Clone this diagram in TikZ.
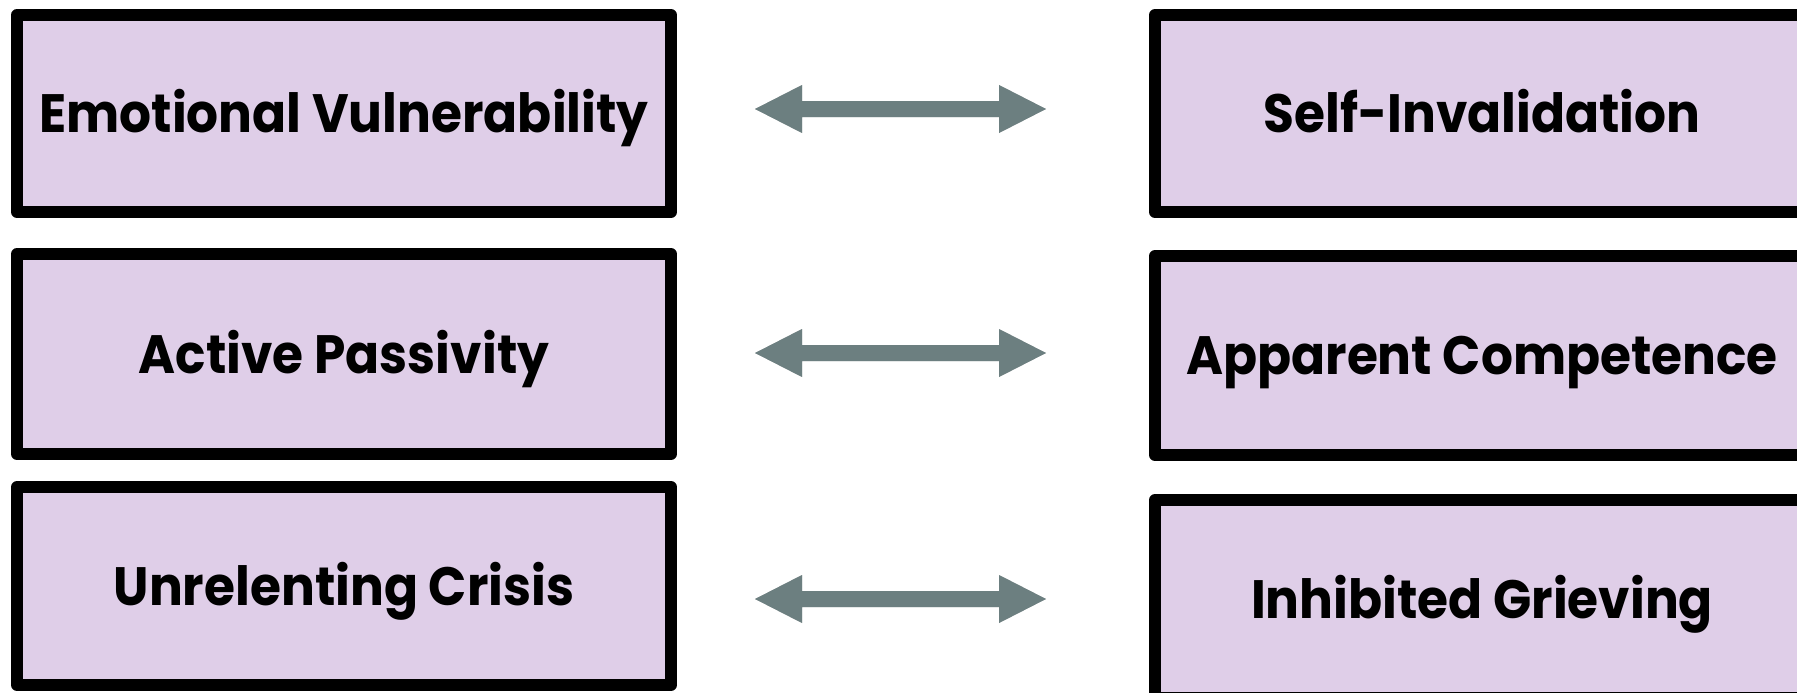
\documentclass[tikz,border=0pt]{standalone}
\usepackage{fontspec}
\setmainfont{Poppins}[FakeStretch=0.93]
\usetikzlibrary{calc}
\definecolor{boxfill}{RGB}{223,206,232}
\definecolor{arrowgray}{RGB}{108,127,128}
\tikzset{
  box/.style={draw=black, line width=12pt, line join=round, fill=boxfill,
    minimum width=654pt, inner sep=0pt, text=black,
    font=\fontsize{54}{60}\selectfont\bfseries, text height=38pt, text depth=0pt},
  arrowbody/.style={fill=arrowgray},
  arrowshadow/.style={fill=black, draw=none},
}
\newcommand{\blockarrow}[2]{%
  \foreach \dx/\dy/\op in {2/3/0.10, 3/5/0.08, 4/7/0.06}{%
    \fill[arrowshadow, opacity=\op, shift={(\dx pt,-\dy pt)}]
      (#1) -- ($(#1)+(47,-24)$) -- ($(#1)+(47,-8)$) -- ($(#2)+(-47,-8)$) -- ($(#2)+(-47,-24)$) -- (#2)
      -- ($(#2)+(-47,24)$) -- ($(#2)+(-47,8)$) -- ($(#1)+(47,8)$) -- ($(#1)+(47,24)$) -- cycle;
  }
  \fill[arrowbody]
    (#1) -- ($(#1)+(47,-24)$) -- ($(#1)+(47,-8)$) -- ($(#2)+(-47,-8)$) -- ($(#2)+(-47,-24)$) -- (#2)
    -- ($(#2)+(-47,24)$) -- ($(#2)+(-47,8)$) -- ($(#1)+(47,8)$) -- ($(#1)+(47,24)$) -- cycle;
}
\begin{document}
\begin{tikzpicture}[x=1pt, y=-1pt]
\useasboundingbox (0,0) rectangle (1797,693);
% left column
\node[box, minimum height=197pt] (l1) at (344,113.5) {Emotional Vulnerability};
\node[box, minimum height=200pt] (l2) at (344,354) {Active Passivity};
\node[box, minimum height=198pt] (l3) at (344,586) {Unrelenting Crisis};
% right column
\node[box, minimum height=197pt] (r1) at (1482,113.5) {Self-Invalidation};
\node[box, minimum height=199pt] (r2) at (1482,355.5) {Apparent Competence};
\node[box, minimum height=198pt] (r3) at (1482,599) {Inhibited Grieving};
% arrows
\coordinate (a1l) at (755,109);  \coordinate (a1r) at (1046,109);
\coordinate (a2l) at (755,353);  \coordinate (a2r) at (1046,353);
\coordinate (a3l) at (755,599);  \coordinate (a3r) at (1046,599);
\blockarrow{a1l}{a1r}
\blockarrow{a2l}{a2r}
\blockarrow{a3l}{a3r}
\end{tikzpicture}
\end{document}
